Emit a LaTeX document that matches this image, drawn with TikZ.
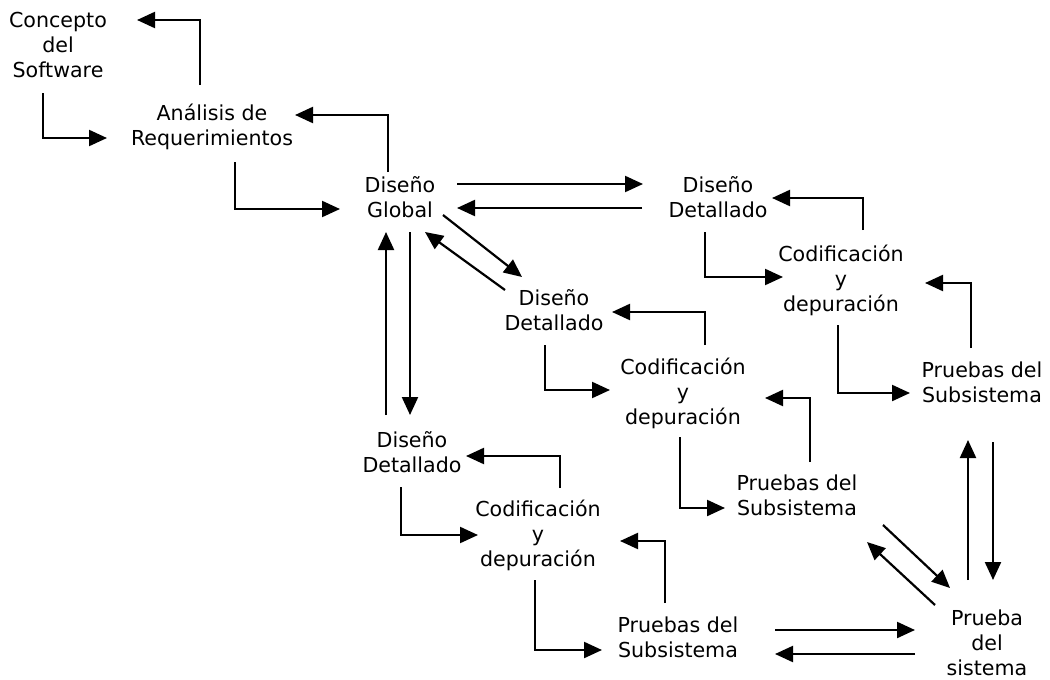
\documentclass[tikz,border=0pt]{standalone}
\usepackage{fontspec}
\setmainfont{DejaVu Sans}
\usetikzlibrary{arrows.meta}
\begin{document}
\begin{tikzpicture}[x=1pt,y=-1pt,>={Triangle[length=18pt,width=16pt]},
	etapa/.style={align=center,inner sep=0pt,font=\fontsize{20.6}{25}\selectfont},
	flecha/.style={->,line width=2.2pt}]
	\useasboundingbox (0,0) rectangle (1050,680);
	% etapas
	\node[etapa] (con) at (58,45) {Concepto\\del\\Software};
	\node[etapa] (ana) at (212,127) {Análisis de\\Requerimientos};
	\node[etapa] (glo) at (400,197) {Diseño\\Global};
	\node[etapa] (dd1) at (718,197) {Diseño\\Detallado};
	\node[etapa] (cod1) at (841,280) {Codificación\\y\\depuración};
	\node[etapa] (pr1) at (982,382) {Pruebas del\\Subsistema};
	\node[etapa] (dd2) at (554,310) {Diseño\\Detallado};
	\node[etapa] (cod2) at (683,393) {Codificación\\y\\depuración};
	\node[etapa] (pr2) at (797,495) {Pruebas del\\Subsistema};
	\node[etapa] (dd3) at (412,452) {Diseño\\Detallado};
	\node[etapa] (cod3) at (538,535) {Codificación\\y\\depuración};
	\node[etapa] (pr3) at (678,637) {Pruebas del\\Subsistema};
	\node[etapa] (sis) at (987,643) {Prueba\\del\\sistema};
	% concepto y analisis
	\draw[flecha] ([shift={(-15,48)}]con.center) |- ([shift={(-105,11)}]ana.center);
	\draw[flecha] ([shift={(-12,-42)}]ana.center) |- ([shift={(79,-25)}]con.center);
	\draw[flecha] ([shift={(-12,-25)}]glo.center) |- ([shift={(83,-12)}]ana.center);
	\draw[flecha] ([shift={(23,35)}]ana.center) |- ([shift={(-60,12)}]glo.center);
	% diseno global
	\draw[flecha] ([shift={(57,-13)}]glo.center) -- ([shift={(-75,-13)}]dd1.center);
	\draw[flecha] ([shift={(-76,11)}]dd1.center) -- ([shift={(57,11)}]glo.center);
	\draw[flecha] ([shift={(43,18)}]glo.center) -- ([shift={(-32,-33)}]dd2.center);
	\draw[flecha] ([shift={(-49,-20)}]dd2.center) -- ([shift={(25,35)}]glo.center);
	\draw[flecha] ([shift={(10,35)}]glo.center) -- ([shift={(-2,-37)}]dd3.center);
	\draw[flecha] ([shift={(-26,-37)}]dd3.center) -- ([shift={(-14,35)}]glo.center);
	% rama superior
	\draw[flecha] ([shift={(-13,35)}]dd1.center) |- ([shift={(-58,-3)}]cod1.center);
	\draw[flecha] ([shift={(22,-50)}]cod1.center) |- ([shift={(54,1)}]dd1.center);
	\draw[flecha] ([shift={(-3,45)}]cod1.center) |- ([shift={(-72,11)}]pr1.center);
	\draw[flecha] ([shift={(-11,-34)}]pr1.center) |- ([shift={(84,3)}]cod1.center);
	% rama media
	\draw[flecha] ([shift={(-9,35)}]dd2.center) |- ([shift={(-73,-3)}]cod2.center);
	\draw[flecha] ([shift={(22,-48)}]cod2.center) |- ([shift={(58,2)}]dd2.center);
	\draw[flecha] ([shift={(-3,44)}]cod2.center) |- ([shift={(-72,13)}]pr2.center);
	\draw[flecha] ([shift={(13,-33)}]pr2.center) |- ([shift={(82,5)}]cod2.center);
	% rama inferior
	\draw[flecha] ([shift={(-11,35)}]dd3.center) |- ([shift={(-60,0)}]cod3.center);
	\draw[flecha] ([shift={(22,-47)}]cod3.center) |- ([shift={(54,4)}]dd3.center);
	\draw[flecha] ([shift={(-3,45)}]cod3.center) |- ([shift={(-76,13)}]pr3.center);
	\draw[flecha] ([shift={(-13,-34)}]pr3.center) |- ([shift={(82,6)}]cod3.center);
	% prueba del sistema
	\draw[flecha] ([shift={(97,-7)}]pr3.center) -- ([shift={(-72,-13)}]sis.center);
	\draw[flecha] ([shift={(-72,11)}]sis.center) -- ([shift={(97,17)}]pr3.center);
	\draw[flecha] ([shift={(86,30)}]pr2.center) -- ([shift={(-37,-55)}]sis.center);
	\draw[flecha] ([shift={(-52,-38)}]sis.center) -- ([shift={(70,47)}]pr2.center);
	\draw[flecha] ([shift={(-19,-63)}]sis.center) -- ([shift={(-14,58)}]pr1.center);
	\draw[flecha] ([shift={(11,60)}]pr1.center) -- ([shift={(6,-63)}]sis.center);
\end{tikzpicture}
\end{document}
